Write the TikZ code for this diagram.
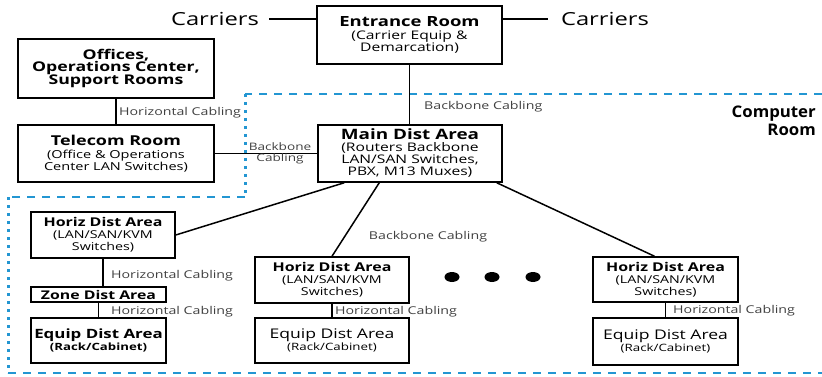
\documentclass[tikz,border=0pt]{standalone}
\usepackage{fontspec}
\setmainfont{Open Sans}[FakeStretch=1.32]
\newfontfamily\crfont{Open Sans}[FakeStretch=1.05]
\usetikzlibrary{calc}
\definecolor{croom}{RGB}{35,150,210}
\newcommand\fz[2]{\fontsize{#1}{#2}\selectfont}
\begin{document}
\begin{tikzpicture}[x=1pt,y=-1pt,
  box/.style={draw, line width=1.5pt, inner sep=0pt, align=center},
  conn/.style={line width=1.5pt},
  lab/.style={text=black!75, font=\fz{10.75}{12}, inner sep=1pt},
  carr/.style={font=\fz{18}{20}, inner sep=0pt},
  hline/.style={croom, line width=2.6pt, dash pattern=on 8pt off 7pt},
  vline/.style={croom, line width=3pt, dash pattern=on 3pt off 5pt}]
\useasboundingbox (0,0) rectangle (822,377);
% blue computer room boundary
\draw[hline] (822,94) -- (245,94);
\draw[vline] (245,94) -- (245,197);
\draw[hline] (245,197) -- (8,197);
\draw[vline] (8,197) -- (8,373);
\draw[hline] (8,373) -- (822,373);
\node[font=\crfont\fz{16}{18}\bfseries, align=right, anchor=east, inner sep=0pt] (cr) at (816,121) {Computer\\Room};
% boxes
\node[box, minimum width=185pt, minimum height=58pt] (ent) at (409.5,35)
  {{\fz{14}{16}\bfseries Entrance Room}\\[1pt]{\fz{11.85}{14}(Carrier Equip \&}\\{\fz{11.85}{14}Demarcation)}};
\node[box, minimum width=196pt, minimum height=59pt] (off) at (116,68.5)
  {\fz{13.4}{15}\bfseries Offices,\\\fz{13.4}{15}\bfseries Operations Center,\\\fz{13.4}{15}\bfseries Support Rooms};
\node[box, minimum width=196pt, minimum height=57pt] (tel) at (116,153.5)
  {{\fz{13.6}{16}\bfseries Telecom Room}\\[0.5pt]{\fz{11}{14}(Office \& Operations}\\{\fz{11}{14}Center LAN Switches)}};
\node[box, minimum width=184pt, minimum height=57pt] (mda) at (410,153.5)
  {{\fz{14.3}{15}\bfseries Main Dist Area}\\{\fz{11.85}{12.6}(Routers Backbone}\\{\fz{11.85}{12.6}LAN/SAN Switches,}\\{\fz{11.85}{12.6}PBX, M13 Muxes)}};
\node[box, minimum width=144pt, minimum height=46pt] (hda1) at (103,235)
  {{\fz{12.1}{14}\bfseries Horiz Dist Area}\\{\fz{10.8}{11.5}(LAN/SAN/KVM}\\{\fz{10.8}{11.5}Switches)}};
\node[box, minimum width=135pt, minimum height=15pt] (zda) at (98.5,294.5)
  {\fz{12}{12}\bfseries Zone Dist Area};
\node[box, minimum width=135pt, minimum height=45pt] (eda1) at (98.5,340.5)
  {{\fz{12.8}{16}\bfseries Equip Dist Area}\\{\fz{10}{12.5}\bfseries (Rack/Cabinet)}};
\node[box, minimum width=154pt, minimum height=46pt] (hda2) at (332,280)
  {{\fz{12.1}{14}\bfseries Horiz Dist Area}\\{\fz{10.8}{11.5}(LAN/SAN/KVM}\\{\fz{10.8}{11.5}Switches)}};
\node[box, minimum width=154pt, minimum height=45pt] (eda2) at (332,340.5)
  {{\fz{13.3}{16}Equip Dist Area}\\{\fz{10.1}{12.5}(Rack/Cabinet)}};
\node[box, minimum width=145pt, minimum height=45pt] (hda3) at (665.5,279.5)
  {{\fz{12.1}{14}\bfseries Horiz Dist Area}\\{\fz{10.8}{11.5}(LAN/SAN/KVM}\\{\fz{10.8}{11.5}Switches)}};
\node[box, minimum width=145pt, minimum height=47pt] (eda3) at (665.5,341.5)
  {{\fz{13.3}{16}Equip Dist Area}\\{\fz{10.1}{12.5}(Rack/Cabinet)}};
% carriers
\node[carr] (carL) at (215,19) {Carriers};
\node[carr] (carR) at (605,19) {Carriers};
\draw[conn] ($(carL.east)+(10,0)$) -- (carL.east -| ent.west);
\draw[conn] (carR.west -| ent.east) -- ($(carR.west)+(-13,0)$);
% connectors
\draw[conn] (ent.south) -- (ent.south |- mda.north);
\draw[conn] (off.south) -- (tel.north);
\draw[conn] (tel.east) -- (tel.east -| mda.west);
\draw[conn] ($(mda.south west)+(27,0)$) -- (hda1.east);
\draw[conn] ($(mda.south west)+(62,0)$) -- (hda2.north);
\draw[conn] ($(mda.south east)+(-6,0)$) -- ($(hda3.north)+(-11,0)$);
\draw[conn] (hda1.south) -- (hda1.south |- zda.north);
\draw[conn] (zda.south) -- (eda1.north);
\draw[conn] (hda2.south) -- (eda2.north);
\draw[conn] (hda3.south) -- (eda3.north);
% labels
\node[lab, anchor=west] (l1) at (118,113) {Horizontal Cabling};
\node[lab, font=\fz{10.3}{11.5}, align=center] (l2) at (280,153.5) {Backbone\\Cabling};
\node[lab, anchor=west] (l3) at (423,107) {Backbone Cabling};
\node[lab] (l4) at (428,237) {Backbone Cabling};
\node[lab, anchor=west] (l5) at (110,276) {Horizontal Cabling};
\node[lab, anchor=west] (l6) at (110,312) {Horizontal Cabling};
\node[lab, anchor=west] (l7) at (334,312) {Horizontal Cabling};
\node[lab, anchor=west] (l8) at (672,311) {Horizontal Cabling};
% dots
\fill (452,277) ellipse [x radius=7.5pt, y radius=5pt];
\fill (492,277) ellipse [x radius=7.5pt, y radius=5pt];
\fill (533,277) ellipse [x radius=7.5pt, y radius=5pt];
\end{tikzpicture}
\end{document}
